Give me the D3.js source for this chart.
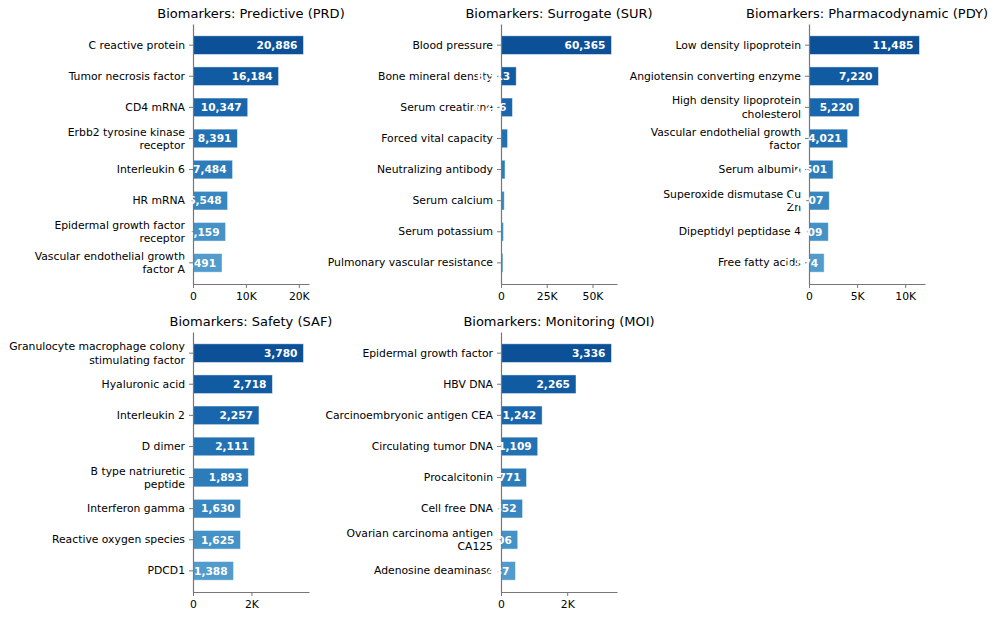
<!DOCTYPE html>
<html>
<head>
<meta charset="utf-8">
<script src="https://cdn.jsdelivr.net/npm/d3@7"></script>
<style>
  body { margin: 0; background: #fff; }
  svg { font-family: "DejaVu Sans", sans-serif; }
</style>
</head>
<body>
<div id="chart"></div>
<script>
// panel titles
const titles = [
  "Biomarkers: Predictive (PRD)",
  "Biomarkers: Surrogate (SUR)",
  "Biomarkers: Pharmacodynamic (PDY)",
  "Biomarkers: Safety (SAF)",
  "Biomarkers: Monitoring (MOI)"
]

const prdNames = ["C reactive protein", "Tumor necrosis factor", "CD4 mRNA", "Erbb2 tyrosine kinase\nreceptor",
  "Interleukin 6", "HR mRNA", "Epidermal growth factor\nreceptor", "Vascular endothelial growth\nfactor A"]
const prdValues = [20886, 16184, 10347, 8391, 7484, 6548, 6159, 5491]

const surNames = ["Blood pressure", "Bone mineral density", "Serum creatinine", "Forced vital capacity",
  "Neutralizing antibody", "Serum calcium", "Serum potassium", "Pulmonary vascular resistance"]
const surValues = [60365, 8313, 6276, 3600, 2200, 1800, 1400, 1100]

const pdyNames = ["Low density lipoprotein", "Angiotensin converting enzyme", "High density lipoprotein\ncholesterol",
  "Vascular endothelial growth\nfactor", "Serum albumin", "Superoxide dismutase Cu\nZn", "Dipeptidyl peptidase 4", "Free fatty acids"]
const pdyValues = [11485, 7220, 5220, 4021, 2501, 2107, 2009, 1574]

const safNames = ["Granulocyte macrophage colony\nstimulating factor", "Hyaluronic acid", "Interleukin 2", "D dimer",
  "B type natriuretic\npeptide", "Interferon gamma", "Reactive oxygen species", "PDCD1"]
const safValues = [3780, 2718, 2257, 2111, 1893, 1630, 1625, 1388]

const moiNames = ["Epidermal growth factor", "HBV DNA", "Carcinoembryonic antigen CEA", "Circulating tumor DNA",
  "Procalcitonin", "Cell free DNA", "Ovarian carcinoma antigen\nCA125", "Adenosine deaminase"]
const moiValues = [3336, 2265, 1242, 1109, 771, 652, 506, 437]

// x tick values per panel
const prdTicks = [0, 10000, 20000]
const surTicks = [0, 25000, 50000]
const pdyTicks = [0, 5000, 10000]
const safTicks = [0, 2000]
const moiTicks = [0, 2000]

const panels = [
  {names: prdNames, values: prdValues, ticks: prdTicks, col: 0, row: 0},
  {names: surNames, values: surValues, ticks: surTicks, col: 1, row: 0},
  {names: pdyNames, values: pdyValues, ticks: pdyTicks, col: 2, row: 0},
  {names: safNames, values: safValues, ticks: safTicks, col: 0, row: 1},
  {names: moiNames, values: moiValues, ticks: moiTicks, col: 1, row: 1}
]

const width = 997
const height = 618
const colLeft = [193, 501, 809]
const rowTop = [24, 332]
const pw = 116
const ph = 260
const spine = "#777"

const svg = d3.select("#chart")
  .append("svg")
  .attr("width", width)
  .attr("height", height)

const fmtTick = d => d === 0 ? "0" : (d / 1000) + "K"

panels.forEach((p, i) => {
  const g = svg.append("g")
    .attr("transform", `translate(${colLeft[p.col]},${rowTop[p.row]})`)

  const maxV = d3.max(p.values)
  const x = d3.scaleLinear().domain([0, maxV * 1.05]).range([0, pw])
  const y = d3.scaleBand().domain(p.names).range([0, ph]).paddingInner(0.4).paddingOuter(0.38)

  const color = d3.scaleLinear().domain([0, p.values.length - 1]).range([0.88, 0.58])

  g.selectAll("rect")
    .data(p.values)
    .enter()
    .append("rect")
    .attr("x", 0)
    .attr("y", (d, j) => y(p.names[j]))
    .attr("width", d => x(d))
    .attr("height", y.bandwidth())
    .attr("fill", (d, j) => d3.interpolateBlues(color(j)))
    .attr("stroke", "#fff")
    .attr("stroke-opacity", 0.6)
    .attr("stroke-width", 0.8)

  // y axis
  const yAxis = g.append("g")
    .call(d3.axisLeft(y).tickSize(4).tickPadding(4).tickSizeOuter(0))
  yAxis.select(".domain").attr("stroke", spine).attr("stroke-width", 1.2)
  yAxis.selectAll(".tick line").attr("stroke", spine)
  yAxis.selectAll(".tick text")
    .attr("font-size", 10.8)
    .attr("font-family", "DejaVu Sans")
    .attr("fill", "#000")
    .each(function(d) {
      const lines = d.split("\n")
      if (lines.length < 2) return
      const t = d3.select(this)
      const xPos = t.attr("x")
      t.text(null).attr("dy", null)
      lines.forEach((ln, k) => {
        t.append("tspan")
          .attr("x", xPos)
          .attr("dy", k === 0 ? "-0.27em" : "1.25em")
          .text(ln)
      })
    })

  // x axis
  const xAxis = g.append("g")
    .attr("transform", `translate(0,${ph})`)
    .call(d3.axisBottom(x).tickValues(p.ticks).tickFormat(fmtTick).tickSize(4).tickPadding(4.5).tickSizeOuter(0))
  xAxis.select(".domain").attr("stroke", spine).attr("stroke-width", 1.2)
  xAxis.selectAll(".tick line").attr("stroke", spine)
  xAxis.selectAll(".tick text")
    .attr("font-size", 10.8)
    .attr("font-family", "DejaVu Sans")
    .attr("fill", "#000")

  // value labels inside bars (only for bars over 10% of the max)
  g.selectAll(".val")
    .data(p.values)
    .enter()
    .filter(d => d > maxV * 0.1)
    .append("text")
    .attr("class", "val")
    .attr("x", d => x(d) - 6)
    .attr("y", d => y(p.names[p.values.indexOf(d)]) + y.bandwidth() / 2)
    .attr("dy", "0.36em")
    .attr("text-anchor", "end")
    .attr("font-size", 10.6)
    .attr("font-weight", "bold")
    .attr("fill", "#fff")
    .text(d => d3.format(",")(d))

  g.append("text")
    .attr("x", pw / 2)
    .attr("y", -6)
    .attr("text-anchor", "middle")
    .attr("font-size", 13)
    .attr("fill", "#000")
    .text(titles[i])
})
</script>
</body>
</html>
